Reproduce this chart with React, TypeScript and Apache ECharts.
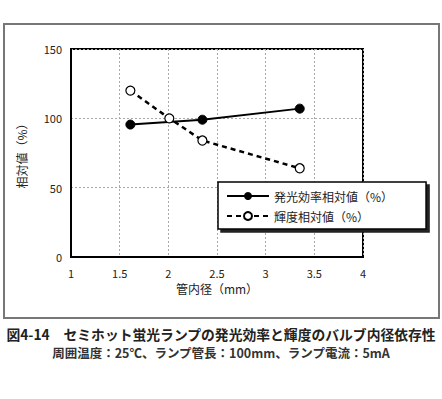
import React, { useEffect, useRef } from "react";
import * as echarts from "echarts";

const xTicks = [1, 1.5, 2, 2.5, 3, 3.5, 4];
const efficiencyX = [1.61, 2.35, 3.35];
const efficiencyY = [95.5, 99, 107];
const luminanceX = [1.61, 2.01, 2.35, 3.35];
const luminanceY = [120, 100, 84, 64];
const seriesNames = ["発光効率相対値（%）", "輝度相対値（%）"];
const title = "図4-14　セミホット蛍光ランプの発光効率と輝度のバルブ内径依存性";
const subtitle = "周囲温度：25℃、ランプ管長：100mm、ランプ電流：5mA";

const FONT = '"Noto Sans CJK JP", "Noto Sans", sans-serif';

export default function App() {
  const ref = useRef<HTMLDivElement>(null);
  useEffect(() => {
    if (!ref.current) return;
    const chart = echarts.init(ref.current, null, { renderer: "svg" });
    chart.setOption({
      animation: false,
      backgroundColor: "#fff",
      textStyle: { fontFamily: FONT },
      graphic: [
        {
          type: "rect",
          shape: { x: 4, y: 24, width: 435, height: 294 },
          style: { fill: "none", stroke: "#777", lineWidth: 2 },
          z: -1,
        },
        {
          type: "text",
          x: 221,
          y: 334,
          style: {
            text: title,
            fontSize: 13.8,
            fontWeight: "bold",
            fill: "#222",
            align: "center",
            verticalAlign: "middle",
            fontFamily: FONT,
          },
        },
        {
          type: "text",
          x: 221,
          y: 352,
          style: {
            text: subtitle,
            fontSize: 12.5,
            fontWeight: "bold",
            fill: "#333",
            align: "center",
            verticalAlign: "middle",
            fontFamily: FONT,
          },
        },
      ],
      grid: {
        left: 71,
        top: 49,
        width: 292,
        height: 208,
        show: true,
        borderColor: "#000",
        borderWidth: 2,
        backgroundColor: "transparent",
      },
      legend: {
        orient: "vertical",
        left: 218,
        top: 182,
        width: 207,
        padding: [8, 33, 7, 8],
        itemGap: 8,
        itemWidth: 42,
        itemHeight: 10,
        backgroundColor: "#fff",
        borderColor: "#000",
        borderWidth: 1.5,
        shadowColor: "#222",
        shadowBlur: 0,
        shadowOffsetX: 3,
        shadowOffsetY: 3,
        textStyle: { fontSize: 12, color: "#222", fontFamily: FONT },
        data: seriesNames,
      },
      xAxis: {
        type: "value",
        min: 1,
        max: 4,
        interval: 0.5,
        name: "管内径（mm）",
        nameLocation: "middle",
        nameGap: 24,
        nameTextStyle: { fontSize: 12, color: "#222", fontFamily: FONT },
        axisLine: { show: true, lineStyle: { color: "#000", width: 2 } },
        axisTick: { show: false },
        axisLabel: {
          fontSize: 11,
          color: "#222",
          margin: 10,
          fontFamily: FONT,
          formatter: (v: number) => (xTicks.includes(v) ? String(v) : ""),
        },
        splitLine: { show: true, lineStyle: { color: "#aaa", type: [2, 2], width: 1 } },
      },
      yAxis: {
        type: "value",
        min: 0,
        max: 150,
        interval: 50,
        name: "相対値（%）",
        nameLocation: "middle",
        nameGap: 44,
        nameRotate: 90,
        nameTextStyle: { fontSize: 12, color: "#222", fontFamily: FONT },
        axisLine: { show: true, lineStyle: { color: "#000", width: 2 } },
        axisTick: { show: false },
        axisLabel: { fontSize: 11, color: "#222", margin: 9, fontFamily: FONT },
        splitLine: { show: true, lineStyle: { color: "#aaa", type: [2, 2], width: 1 } },
      },
      series: [
        {
          name: seriesNames[0],
          type: "line",
          data: efficiencyX.map((x, i) => [x, efficiencyY[i]]),
          symbol: "circle",
          symbolSize: 9,
          itemStyle: { color: "#000", borderColor: "#000" },
          lineStyle: { color: "#000", width: 2 },
        },
        {
          name: seriesNames[1],
          type: "line",
          data: luminanceX.map((x, i) => [x, luminanceY[i]]),
          symbol: "circle",
          symbolSize: 9,
          itemStyle: { color: "#fff", borderColor: "#000", borderWidth: 1.2 },
          lineStyle: { color: "#000", width: 2.5, type: [5, 4] },
        },
      ],
    });
    return () => chart.dispose();
  }, []);
  return <div ref={ref} style={{ width: 442, height: 399, position: "absolute", left: 0, top: 0 }} />;
}
